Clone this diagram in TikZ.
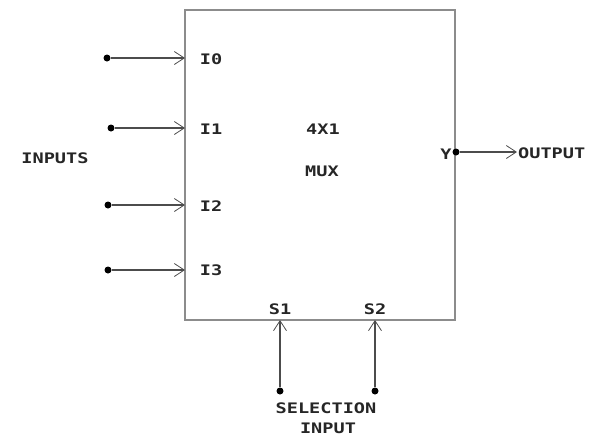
\documentclass[tikz,border=0pt]{standalone}
\usepackage{fontspec}
\setmainfont{DejaVu Sans Mono}[FakeStretch=1.28]
\usetikzlibrary{arrows.meta}
\begin{document}
\begin{tikzpicture}[x=1pt,y=-1pt,
  lbl/.style={font=\bfseries\fontsize{14.5}{16}\selectfont, inner sep=0pt, text=black!85},
  pin/.style={draw=black!70, line width=1.2pt, -{Straight Barb[length=10pt,width=13pt,line width=0.8pt]}},
  dotc/.style={circle, fill=black, inner sep=0pt, minimum size=7pt}]
\useasboundingbox (0,0) rectangle (595,440);
\node[draw=black!45, line width=1.8pt, minimum width=270pt, minimum height=310pt, inner sep=0pt] (mux) at (320,165) {};
% inputs
\node[dotc] (d0) at (107,58) {};
\node[dotc] (d1) at (111,128) {};
\node[dotc] (d2) at (108,205) {};
\node[dotc] (d3) at (108,270) {};
\coordinate (e0) at (185,58);
\coordinate (e1) at (185,128);
\coordinate (e2) at (185,205);
\coordinate (e3) at (185,270);
\draw[pin] (d0) -- (e0);
\draw[pin] (d1) -- (e1);
\draw[pin] (d2) -- (e2);
\draw[pin] (d3) -- (e3);
\node[lbl] (l0) at (211,59) {I0};
\node[lbl] (l1) at (211,129) {I1};
\node[lbl] (l2) at (211,206) {I2};
\node[lbl] (l3) at (211,270) {I3};
\node[lbl] (inp) at (55,158) {INPUTS};
\node[lbl] (t1) at (323,129) {4X1};
\node[lbl] (t2) at (322,171) {MUX};
% output
\node[dotc] (dy) at (456,152) {};
\node[lbl] (y) at (446,154) {Y};
\coordinate (oy) at (517,152);
\draw[pin] (dy) -- (oy);
\node[lbl, anchor=west] (out) at (518,153) {OUTPUT};
% selection
\node[dotc] (ds1) at (280,391) {};
\node[dotc] (ds2) at (375,391) {};
\coordinate (s1e) at (280,320);
\coordinate (s2e) at (375,320);
\draw[pin] (ds1) -- (s1e);
\draw[pin] (ds2) -- (s2e);
\node[lbl] (s1) at (280,309) {S1};
\node[lbl] (s2) at (375,309) {S2};
\node[lbl] (sel) at (326,408) {SELECTION};
\node[lbl] (si) at (328,428) {INPUT};
\end{tikzpicture}
\end{document}
